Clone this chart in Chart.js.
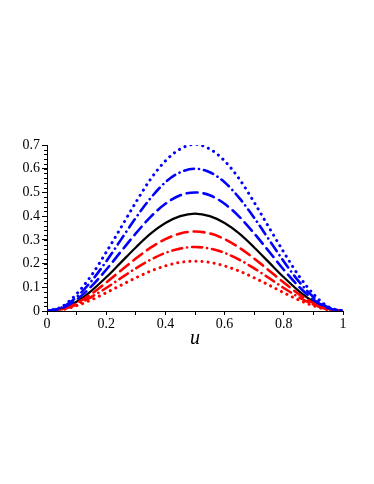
<!DOCTYPE html>
<html>
<head>
<meta charset="utf-8">
<script src="https://cdn.jsdelivr.net/npm/chart.js@4/dist/chart.umd.min.js"></script>
<style>
  html, body { margin: 0; padding: 0; background: #fff; }
  #wrap { width: 374px; height: 484px; position: relative; }
</style>
</head>
<body>
<div id="wrap"><canvas id="uChart"></canvas></div>
<script>
// values, u from 0 to 1 in steps of 0.05
const uValues = [0, 0.05, 0.1, 0.15, 0.2, 0.25, 0.3, 0.35, 0.4, 0.45, 0.5,
                 0.55, 0.6, 0.65, 0.7, 0.75, 0.8, 0.85, 0.9, 0.95, 1];

const blueDotted  = [0, 0.018, 0.072, 0.150, 0.248, 0.352, 0.458, 0.556, 0.633, 0.683, 0.703,
                     0.683, 0.633, 0.556, 0.458, 0.352, 0.248, 0.150, 0.072, 0.018, 0];
const blueDashDot = [0, 0.015, 0.059, 0.126, 0.209, 0.301, 0.393, 0.476, 0.543, 0.585, 0.600,
                     0.585, 0.543, 0.476, 0.393, 0.301, 0.209, 0.126, 0.059, 0.015, 0];
const blueDashed  = [0, 0.012, 0.048, 0.104, 0.174, 0.251, 0.327, 0.397, 0.452, 0.488, 0.500,
                     0.488, 0.452, 0.397, 0.327, 0.251, 0.174, 0.104, 0.048, 0.012, 0];
const blackSolid  = [0, 0.010, 0.039, 0.085, 0.142, 0.205, 0.268, 0.326, 0.371, 0.400, 0.411,
                     0.400, 0.371, 0.326, 0.268, 0.205, 0.142, 0.085, 0.039, 0.010, 0];
const redDashed   = [0, 0.008, 0.033, 0.072, 0.120, 0.171, 0.221, 0.267, 0.303, 0.327, 0.335,
                     0.327, 0.303, 0.267, 0.221, 0.171, 0.120, 0.072, 0.033, 0.008, 0];
const redDashDot  = [0, 0.007, 0.027, 0.059, 0.097, 0.139, 0.180, 0.216, 0.245, 0.263, 0.270,
                     0.263, 0.245, 0.216, 0.180, 0.139, 0.097, 0.059, 0.027, 0.007, 0];
const redDotted   = [0, 0.005, 0.022, 0.047, 0.077, 0.109, 0.140, 0.168, 0.190, 0.205, 0.210,
                     0.205, 0.190, 0.168, 0.140, 0.109, 0.077, 0.047, 0.022, 0.005, 0];

const xTickLabels = ['0', '0.2', '0.4', '0.6', '0.8', '1'];
const yTickLabels = ['0', '0.1', '0.2', '0.3', '0.4', '0.5', '0.6', '0.7'];

function toPoints(ys) {
    return uValues.map(function(u, i) { return { x: u, y: ys[i] }; });
}

function line(ys, color, dash, width) {
    return {
        data: toPoints(ys),
        borderColor: color,
        borderWidth: width,
        borderDash: dash,
        borderCapStyle: dash.length ? 'round' : 'butt',
        pointRadius: 0,
        fill: false,
        cubicInterpolationMode: 'monotone'
    };
}

// small ticks on the y axis every 0.02
const minorTicks = {
    id: 'minorTicks',
    afterDraw: function(chart) {
        const ctx = chart.ctx;
        const y = chart.scales.y;
        ctx.save();
        ctx.strokeStyle = '#000';
        ctx.lineWidth = 1;
        for (let v = 0; v <= 0.7001; v += 0.02) {
            const py = Math.round(y.getPixelForValue(v)) + 0.5;
            ctx.beginPath();
            ctx.moveTo(y.right - 3, py);
            ctx.lineTo(y.right, py);
            ctx.stroke();
        }
        ctx.restore();
    }
};

const serif = { family: '"Liberation Serif", "DejaVu Serif", serif', size: 14 };

new Chart(document.getElementById('uChart'), {
    type: 'line',
    data: {
        datasets: [
            line(blueDotted, '#0000ff', [0.1, 6], 3),
            line(blueDashDot, '#0000ff', [10, 5, 0.1, 5], 2.6),
            line(blueDashed, '#0000ff', [11, 6], 2.6),
            line(redDashed, '#ff0000', [11, 6], 2.6),
            line(redDashDot, '#ff0000', [10, 5, 0.1, 5], 2.6),
            line(redDotted, '#ff0000', [0.1, 6], 3),
            line(blackSolid, '#000000', [], 2.2)
        ]
    },
    options: {
        responsive: true,
        maintainAspectRatio: false,
        animation: false,
        layout: { padding: { left: 0, top: 145, right: 31, bottom: 133 } },
        plugins: { legend: { display: false }, tooltip: { enabled: false } },
        scales: {
            x: {
                type: 'linear',
                min: 0,
                max: 1,
                afterFit: function(scale) { scale.height = 40; },
                border: { color: '#000', width: 1 },
                grid: { drawOnChartArea: false, tickLength: 4, color: '#000' },
                ticks: {
                    stepSize: 0.1,
                    padding: 1,
                    maxRotation: 0,
                    autoSkip: false,
                    color: '#000',
                    font: serif,
                    callback: function(value) {
                        const k = Math.round(value * 10);
                        return k % 2 === 0 ? xTickLabels[k / 2] : '';
                    }
                },
                title: {
                    display: true,
                    text: 'u',
                    color: '#000',
                    padding: { top: 0, bottom: 0 },
                    font: { family: '"Liberation Serif", "DejaVu Serif", serif', size: 20, style: 'italic' }
                }
            },
            y: {
                min: 0,
                max: 0.7,
                afterFit: function(scale) { scale.width = 47; },
                border: { color: '#000', width: 1 },
                grid: { drawOnChartArea: false, tickLength: 5, color: '#000' },
                ticks: {
                    stepSize: 0.1,
                    padding: 2,
                    color: '#000',
                    font: serif,
                    callback: function(value) {
                        return yTickLabels[Math.round(value * 10)];
                    }
                }
            }
        }
    },
    plugins: [minorTicks]
});
</script>
</body>
</html>
